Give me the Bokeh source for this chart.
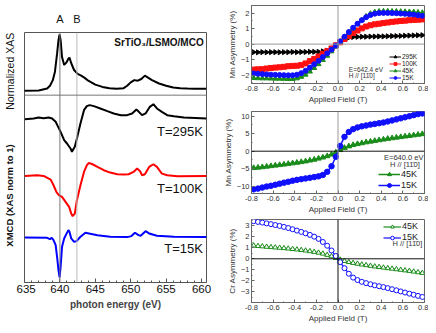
import math
from bokeh.plotting import figure
from bokeh.layouts import row, column
from bokeh.models import Span, Label, FixedTicker, NumeralTickFormatter, Range1d, LinearAxis
from bokeh.embed import file_html
from bokeh.resources import INLINE

FONT = "Liberation Sans"

# ---------------- data: left panel (XAS / XMCD) ----------------
xas_e = [635.0, 637.0, 638.2, 638.6, 639.0, 639.3, 639.6, 639.8, 639.95, 640.1, 640.3, 640.6, 640.9, 641.2,
         641.35, 641.6, 642.0, 642.5, 643.0, 643.5, 644.0, 645.0, 646.0, 647.0, 648.0, 649.0, 649.5, 650.0,
         650.5, 651.0, 651.5, 652.0, 652.5, 653.0, 654.0, 655.0, 656.0, 657.0, 658.0, 659.0, 660.7]
xas_v = [0.0, 0.006, 0.04, 0.09, 0.19, 0.34, 0.66, 0.90, 1.0, 0.90, 0.60, 0.46, 0.50, 0.57,
         0.59, 0.49, 0.37, 0.30, 0.27, 0.23, 0.18, 0.11, 0.07, 0.047, 0.036, 0.047, 0.09, 0.15,
         0.19, 0.18, 0.21, 0.27, 0.23, 0.19, 0.13, 0.09, 0.06, 0.047, 0.04, 0.036, 0.036]

e295 = [635.05, 636.3, 637.0, 637.7, 638.4, 638.9, 639.4, 639.7, 640.1, 640.6, 641.0, 641.5, 641.7, 642.1,
        642.4, 642.9, 643.4, 643.8, 644.2, 644.8, 645.7, 646.7, 647.6, 648.6, 649.5, 650.2, 650.8, 651.15,
        651.6, 652.1, 652.7, 653.2, 653.7, 654.4, 655.15, 656.1, 657.5, 660.7]
v295 = [-0.012, 0.0, 0.018, 0.006, 0.018, 0.0, -0.059, -0.136, -0.237, -0.385, -0.444, -0.533, -0.592, -0.503,
        -0.355, -0.089, 0.148, 0.219, 0.237, 0.219, 0.178, 0.130, 0.089, 0.059, 0.059, 0.089, 0.160, 0.118,
        0.059, 0.089, 0.207, 0.254, 0.178, 0.118, 0.059, 0.041, 0.018, 0.0]

e100 = [635.05, 636.8, 637.7, 638.7, 639.1, 639.5, 639.85, 640.3, 640.8, 641.3, 641.6, 641.8, 642.1, 642.4,
        642.9, 643.4, 643.8, 644.1, 644.6, 645.3, 646.2, 647.1, 648.1, 649.0, 649.7, 650.4, 650.9, 651.3,
        651.6, 652.0, 652.6, 653.2, 653.7, 654.4, 655.15, 656.6, 660.7]
v100 = [0.0, 0.012, 0.0, -0.065, -0.166, -0.284, -0.343, -0.373, -0.462, -0.550, -0.669, -0.716, -0.669, -0.432,
        -0.166, 0.071, 0.189, 0.231, 0.207, 0.160, 0.101, 0.059, 0.030, 0.024, 0.030, 0.071, 0.130, 0.089,
        0.012, 0.030, 0.160, 0.207, 0.160, 0.041, 0.012, -0.006, 0.0]

e15 = [635.05, 638.2, 638.6, 638.85, 639.1, 639.4, 639.6, 639.8, 639.95, 640.1, 640.3, 640.6, 640.9, 641.2,
       641.35, 641.6, 642.0, 642.35, 642.9, 643.6, 644.1, 645.3, 647.1, 649.5, 650.1, 650.6, 651.1, 651.4,
       652.1, 652.6, 653.7, 656.1, 660.7]
v15 = [0.0, -0.006, -0.030, -0.006, -0.047, -0.136, -0.343, -0.58, -0.710, -0.521, -0.166, -0.018, 0.059, 0.130,
       0.101, -0.018, -0.077, -0.065, 0.012, 0.083, 0.071, 0.041, 0.012, 0.006, 0.024, 0.083, 0.041, 0.030,
       0.112, 0.071, 0.030, 0.012, 0.006]

xmcd_labels = ["T=295K", "T=100K", "T=15K"]
xmcd_colors = ["#000000", "#ff0000", "#0000ff"]
xas_offset = 3.404
divider = 3.327
xmcd_offsets = [2.913, 1.893, 0.80]
label_offsets = [2.675, 1.675, 0.61]
edge_lines = [640.0, 642.4]
edge_names = ["A", "B"]
energy_ticks = [635, 640, 645, 650, 655, 660]

# ---------------- data: right panels (hysteresis) ----------------
field = [-0.78, -0.74, -0.70, -0.66, -0.62, -0.58, -0.54, -0.50, -0.46, -0.42, -0.38, -0.34, -0.30, -0.26,
         -0.22, -0.18, -0.14, -0.10, -0.06, -0.02, 0.02, 0.06, 0.10, 0.14, 0.18, 0.22, 0.26, 0.30, 0.34,
         0.38, 0.42, 0.46, 0.50, 0.54, 0.58, 0.62, 0.66, 0.70, 0.74, 0.78]

mn642_295 = [-0.52, -0.53, -0.52, -0.53, -0.52, -0.52, -0.53, -0.52, -0.52, -0.51, -0.52, -0.51, -0.51, -0.50,
             -0.50, -0.50, -0.47, -0.42, -0.30, -0.10, 0.12, 0.32, 0.42, 0.46, 0.47, 0.48, 0.48, 0.49, 0.49,
             0.50, 0.50, 0.51, 0.52, 0.52, 0.53, 0.54, 0.55, 0.56, 0.57, 0.58]
mn642_100 = [-1.65, -1.63, -1.62, -1.58, -1.55, -1.52, -1.50, -1.47, -1.43, -1.41, -1.40, -1.36, -1.25, -1.10,
             -0.96, -0.80, -0.63, -0.46, -0.28, -0.08, 0.12, 0.33, 0.52, 0.72, 0.88, 1.02, 1.14, 1.22, 1.28,
             1.32, 1.36, 1.40, 1.44, 1.47, 1.50, 1.52, 1.55, 1.57, 1.58, 1.60]
mn642_45 = [-2.20, -2.21, -2.22, -2.22, -2.23, -2.24, -2.24, -2.25, -2.26, -2.26, -2.22, -2.12, -1.98, -1.78,
            -1.55, -1.30, -1.03, -0.76, -0.47, -0.15, 0.15, 0.45, 0.74, 1.02, 1.30, 1.56, 1.80, 1.98, 2.08,
            2.12, 2.13, 2.13, 2.12, 2.12, 2.11, 2.10, 2.09, 2.08, 2.06, 2.04]
mn642_15 = [-1.90, -1.92, -1.94, -1.96, -1.98, -1.99, -2.00, -2.01, -2.02, -2.02, -1.98, -1.88, -1.72, -1.52,
            -1.30, -1.08, -0.84, -0.60, -0.36, -0.10, 0.18, 0.48, 0.78, 1.06, 1.32, 1.55, 1.74, 1.88, 1.97,
            2.01, 2.02, 2.02, 2.01, 2.00, 1.98, 1.96, 1.94, 1.91, 1.87, 1.83]

mn640_45 = [-4.80, -4.68, -4.55, -4.40, -4.25, -4.10, -3.95, -3.80, -3.62, -3.45, -3.28, -3.10, -2.90, -2.65,
            -2.40, -2.10, -1.78, -1.40, -0.95, -0.35, 0.35, 0.95, 1.40, 1.78, 2.05, 2.30, 2.55, 2.75, 2.95,
            3.15, 3.35, 3.55, 3.72, 3.90, 4.05, 4.22, 4.38, 4.55, 4.72, 4.90]
mn640_15 = [-10.9, -10.7, -10.4, -10.1, -9.9, -9.6, -9.3, -9.0, -8.75, -8.45, -8.2, -8.0, -7.8, -7.6,
            -7.4, -7.2, -6.8, -5.9, -4.3, -1.6, 1.5, 4.1, 5.5, 6.3, 6.8, 7.1, 7.35, 7.6, 7.8,
            8.0, 8.2, 8.5, 8.8, 9.1, 9.4, 9.7, 10.0, 10.3, 10.6, 10.8]

cr_45 = [1.20, 1.15, 1.12, 1.08, 1.05, 1.02, 0.99, 0.96, 0.92, 0.88, 0.84, 0.79, 0.74, 0.68,
         0.62, 0.55, 0.46, 0.35, 0.22, 0.07, -0.08, -0.20, -0.30, -0.38, -0.45, -0.52, -0.58, -0.64, -0.70,
         -0.75, -0.80, -0.85, -0.90, -0.95, -1.00, -1.05, -1.10, -1.16, -1.22, -1.28]
cr_15 = [3.40, 3.33, 3.27, 3.20, 3.13, 3.05, 2.97, 2.88, 2.78, 2.67, 2.55, 2.43, 2.30, 2.16,
         2.00, 1.80, 1.52, 1.18, 0.75, 0.25, -0.30, -0.85, -1.35, -1.70, -1.92, -2.08, -2.20, -2.30, -2.40,
         -2.48, -2.56, -2.65, -2.75, -2.85, -2.95, -3.05, -3.15, -3.25, -3.35, -3.45]

field_ticks = [-0.8, -0.6, -0.4, -0.2, 0.0, 0.2, 0.4, 0.6, 0.8]
field_minor = [-0.7, -0.5, -0.3, -0.1, 0.1, 0.3, 0.5, 0.7]

BLACK, RED, GREEN, BLUE = "#000000", "#ff1010", "#1a8c1a", "#1010ff"
H = 325
LEFT_YR = (0, 4.44)

# ---------------- label strip for the left panel's y titles ----------------
strip = figure(width=16, height=H, x_range=Range1d(0, 1), y_range=Range1d(*LEFT_YR),
               output_backend="svg", toolbar_location=None,
               min_border_left=0, min_border_right=0, min_border_top=32, min_border_bottom=43)
strip.axis.visible = False
strip.xgrid.grid_line_color = None
strip.ygrid.grid_line_color = None
strip.outline_line_color = None
strip.add_layout(Label(x=0.6, y=3.75, text="Normalized XAS", angle=math.pi / 2, text_font=FONT,
                       text_font_size="10.5px", text_align="center", text_baseline="middle",
                       text_color="#111111"))
strip.add_layout(Label(x=0.56, y=1.545, text="XMCD (XAS norm to 1)", angle=math.pi / 2, text_font=FONT,
                       text_font_size="9.5px", text_font_style="bold", text_align="center",
                       text_baseline="middle", text_color="#111111"))

# ---------------- left panel ----------------
left = figure(width=204, height=H, x_range=Range1d(635, 660.7), y_range=Range1d(*LEFT_YR),
              output_backend="svg", toolbar_location=None, x_axis_location="below",
              min_border_left=8, min_border_right=14, min_border_top=32, min_border_bottom=43)
left.xgrid.grid_line_color = None
left.ygrid.grid_line_color = None
left.outline_line_color = "#555555"
for a in left.yaxis:
    a.visible = False

for loc, col in zip(edge_lines, ["#777777", "#bbbbbb"]):
    left.add_layout(Span(location=loc, dimension="height", line_color=col, line_width=1))
left.add_layout(Span(location=divider, dimension="width", line_color="#777777", line_width=1))

ax = left.below[0]
ax.ticker = FixedTicker(ticks=energy_ticks, minor_ticks=list(range(635, 661)))
ax.axis_line_color = "#555555"
ax.major_tick_in = 4
ax.major_tick_out = 0
ax.minor_tick_in = 2
ax.minor_tick_out = 0
ax.major_tick_line_color = "#555555"
ax.minor_tick_line_color = "#555555"
ax.major_label_text_font = FONT
ax.major_label_text_font_size = "11.5px"
ax.major_label_text_color = "#111111"
ax.major_label_standoff = 2
ax.axis_label = "photon energy (eV)"
ax.axis_label_text_font = FONT
ax.axis_label_text_font_size = "10px"
ax.axis_label_text_font_style = "bold"
ax.axis_label_standoff = 3

# A / B markers on an axis above the frame
ab = LinearAxis(ticker=FixedTicker(ticks=edge_lines),
                major_label_overrides={edge_lines[0]: edge_names[0], edge_lines[1]: edge_names[1]})
ab.axis_line_color = None
ab.major_tick_line_color = None
ab.minor_tick_line_color = None
ab.major_label_text_font = FONT
ab.major_label_text_font_size = "11px"
ab.major_label_text_color = "#111111"
ab.major_label_standoff = 2
left.add_layout(ab, "above")

left.line(xas_e, [v + xas_offset for v in xas_v], line_color=BLACK, line_width=2)
left.add_layout(Label(x=660.3, y=xas_offset + 0.86, text="SrTiO\u2083/LSMO/MCO", text_font=FONT,
                      text_font_size="10px", text_font_style="bold", text_align="right",
                      text_baseline="middle", text_color="#111111"))

for e, v, col, off, lab, loff in zip([e295, e100, e15], [v295, v100, v15], xmcd_colors, xmcd_offsets,
                                     xmcd_labels, label_offsets):
    left.line(e, [val + off for val in v], line_color=col, line_width=2)
    left.add_layout(Label(x=660.2, y=loff, text=lab, text_font=FONT, text_font_size="13px",
                          text_align="right", text_baseline="middle", text_color="#111111"))

# ---------------- right panels ----------------
RW = 208


def hyst_fig(height, yr, ticks, minor, ylabel, btop, bbot=21):
    p = figure(width=RW, height=height, x_range=Range1d(-0.8, 0.8), y_range=Range1d(*yr),
               output_backend="svg", toolbar_location=None,
               min_border_left=22, min_border_right=4, min_border_top=btop, min_border_bottom=bbot)
    p.xgrid.grid_line_color = None
    p.ygrid.grid_line_color = None
    p.outline_line_color = "#666666"
    p.xaxis.ticker = FixedTicker(ticks=field_ticks, minor_ticks=field_minor)
    p.xaxis.formatter = NumeralTickFormatter(format="0.0")
    p.yaxis.ticker = FixedTicker(ticks=ticks, minor_ticks=minor)
    for a in (p.xaxis, p.yaxis):
        a.axis_line_color = "#666666"
        a.major_tick_in = 3
        a.major_tick_out = 0
        a.minor_tick_in = 1
        a.minor_tick_out = 0
        a.major_tick_line_color = "#666666"
        a.minor_tick_line_color = "#666666"
        a.major_label_text_font = FONT
        a.major_label_text_font_size = "7.5px"
        a.major_label_text_color = "#333333"
        a.major_label_standoff = 2
        a.axis_label_text_font = FONT
        a.axis_label_text_font_size = "8px"
        a.axis_label_text_font_style = "normal"
        a.axis_label_text_color = "#333333"
        a.axis_label_standoff = 1
    p.xaxis.axis_label = "Applied Field (T)"
    p.yaxis.axis_label = ylabel
    return p


def small_text(p, x, y, txt, size="7px", align="left"):
    p.add_layout(Label(x=x, y=y, text=txt, text_font=FONT, text_font_size=size, text_align=align,
                       text_baseline="middle", text_color="#333333"))


def style_legend(lg, loc, size, h, gw, spacing, margin):
    lg.location = loc
    lg.label_text_font = FONT
    lg.label_text_font_size = size
    lg.label_text_color = "#222222"
    lg.label_height = h
    lg.glyph_height = h
    lg.glyph_width = gw
    lg.label_standoff = 1
    lg.spacing = spacing
    lg.padding = 1
    lg.margin = margin
    lg.border_line_color = None
    lg.background_fill_alpha = 0


HDIR = "H // [11\u03040]"

# panel 1: Mn, E=642.4 eV
p1 = hyst_fig(106, (-2.55, 2.5), [-2, -1, 0, 1, 2], [-2.5, -1.5, -0.5, 0.5, 1.5, 2.5], "Mn Asymmetry (%)", 5)
p1.add_layout(Span(location=0, dimension="width", line_color="#999999", line_width=1))
p1.add_layout(Span(location=0, dimension="height", line_color="#999999", line_width=1))
for vals, col, mk, ang, name in [(mn642_295, BLACK, "triangle", -math.pi / 2, "295K"),
                                 (mn642_100, RED, "square", 0, "100K"),
                                 (mn642_45, GREEN, "triangle", 0, "45K"),
                                 (mn642_15, BLUE, "circle", 0, "15K")]:
    p1.line(field, vals, line_color=col, line_width=1, legend_label=name)
    p1.scatter(field, vals, marker=mk, angle=ang, size=5, fill_color=col, line_color=col, legend_label=name)
small_text(p1, 0.10, -1.64, "E=642.4 eV", "6.5px")
small_text(p1, 0.10, -2.04, HDIR, "6.5px")
style_legend(p1.legend[0], "bottom_right", "6.5px", 7, 12, 0, 2)

# panel 2: Mn, E=640.0 eV
p2 = hyst_fig(110, (-12.1, 11.35), [-10, -5, 0, 5, 10], [-7.5, -2.5, 2.5, 7.5], "Mn Asymmetry (%)", 5)
p2.add_layout(Span(location=0, dimension="width", line_color="#111111", line_width=1))
p2.add_layout(Span(location=0, dimension="height", line_color="#999999", line_width=1))
for vals, col, mk, name in [(mn640_45, GREEN, "triangle", "45K"), (mn640_15, BLUE, "circle", "15K")]:
    p2.line(field, vals, line_color=col, line_width=1.5, legend_label=name)
    p2.scatter(field, vals, marker=mk, size=5.5, fill_color=col, line_color=col, legend_label=name)
small_text(p2, 0.79, -1.9, "E=640.0 eV", "7.5px", "right")
small_text(p2, 0.48, -3.9, HDIR, "7.5px")
style_legend(p2.legend[0], "bottom_right", "9px", 10, 22, 1, 3)

# panel 3: Cr
p3 = hyst_fig(109, (-3.95, 3.55), [-3, -2, -1, 0, 1, 2, 3], [-3.5, -2.5, -1.5, -0.5, 0.5, 1.5, 2.5, 3.5],
              "Cr Asymmetry (%)", 3)
p3.add_layout(Span(location=0, dimension="width", line_color="#111111", line_width=1))
p3.add_layout(Span(location=0, dimension="height", line_color="#111111", line_width=1))
for vals, col, mk, name in [(cr_45, GREEN, "triangle", "45K"), (cr_15, BLUE, "circle", "15K")]:
    p3.line(field, vals, line_color=col, line_width=1.2, legend_label=name)
    p3.scatter(field, vals, marker=mk, size=5, fill_color="white", line_color=col, line_width=1,
               legend_label=name)
small_text(p3, 0.78, 1.35, HDIR, "7.5px", "right")
style_legend(p3.legend[0], "top_right", "9px", 9, 18, 1, 2)

right = column(p1, p2, p3, spacing=0)
layout = row(strip, left, right, spacing=0)

open("out.html", "w").write(file_html(layout, INLINE))
